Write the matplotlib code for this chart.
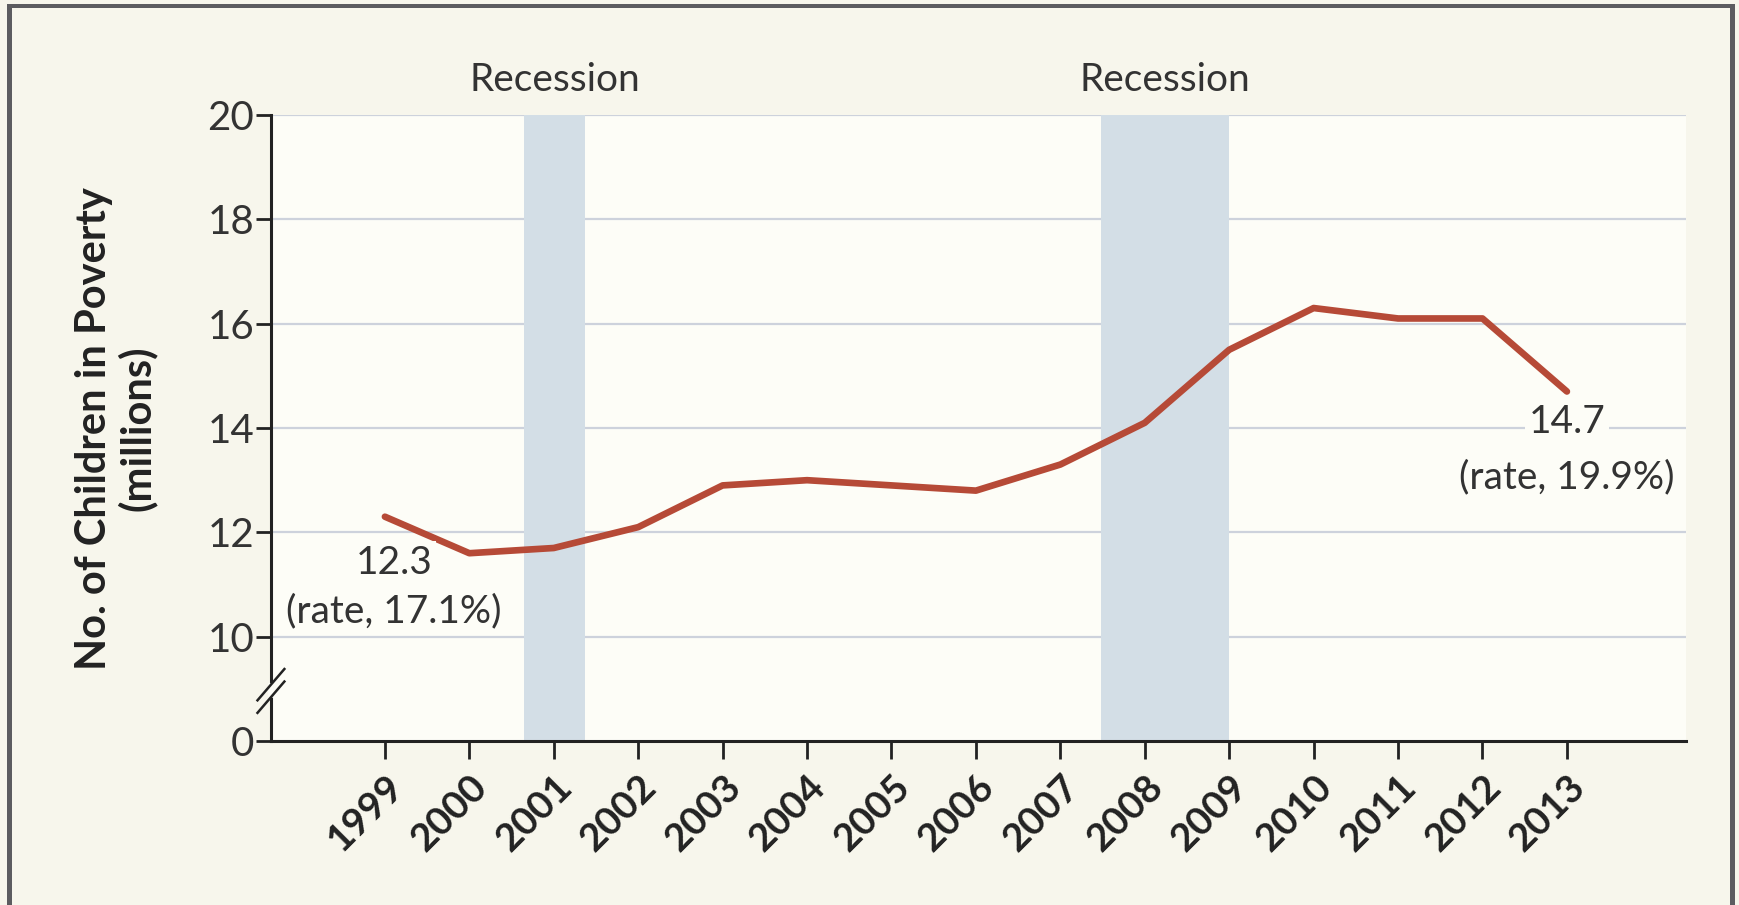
import matplotlib
matplotlib.use("Agg")
import matplotlib.pyplot as plt
from matplotlib.patches import Rectangle

# data
years = [1999, 2000, 2001, 2002, 2003, 2004, 2005, 2006, 2007,
         2008, 2009, 2010, 2011, 2012, 2013]
children = [12.3, 11.6, 11.7, 12.1, 12.9, 13.0, 12.9, 12.8, 13.3,
            14.1, 15.5, 16.3, 16.1, 16.1, 14.7]
rates = {1999: 17.1, 2013: 19.9}
recessions = [(2000.65, 2001.37), (2007.48, 2009.0)]
ytick_values = [0, 10, 12, 14, 16, 18, 20]

# the y axis is broken between 0 and 10; 0 is drawn where 8 would be
BREAK_POS = 8

plt.rcParams["font.family"] = ["Lato", "DejaVu Sans"]

FIG_BG = "#f7f6ec"
AX_BG = "#fdfdf7"
LINE = "#b64a37"
SHADE = "#d3dee6"
GRID = "#cdd2dc"
TXT = "#333333"

fig = plt.figure(figsize=(17.39, 9.05), dpi=100, facecolor=FIG_BG)
ax = fig.add_axes([0.1558, 0.1812, 0.9695 - 0.1558, 0.8729 - 0.1812])
ax.set_facecolor(AX_BG)

ax.set_xlim(1997.65, 2014.41)
ax.set_ylim(BREAK_POS, 20)

# recession bands and labels
for start, end in recessions:
    ax.axvspan(start, end, color=SHADE, lw=0, zorder=1)
    ax.text((start + end) / 2, 1.056, "Recession", transform=ax.get_xaxis_transform(),
            ha="center", va="center", fontsize=28, color=TXT)

# grid lines (only above the break)
for v in ytick_values:
    if v >= 10:
        ax.axhline(v, color=GRID, lw=1.6, zorder=0.5)

ax.plot(years, children, color=LINE, lw=4.8, solid_capstyle="round",
        solid_joinstyle="round", zorder=3)

# end point labels
for yr in (years[0], years[-1]):
    val = children[years.index(yr)]
    dx = 6.5 if yr == years[0] else 0
    d1 = -33 if yr == years[0] else -22
    d2 = -68 if yr == years[0] else -62
    ax.annotate(f"{val:.1f}", (yr, val), xytext=(dx, d1), textcoords="offset points",
                ha="center", va="center", fontsize=28, color=TXT,
                zorder=4, bbox=dict(boxstyle="square,pad=0.1", fc=AX_BG, ec="none"))
    ax.annotate(f"(rate, {rates[yr]:.1f}%)", (yr, val), xytext=(dx, d2),
                textcoords="offset points", ha="center", va="center",
                fontsize=28, color=TXT, zorder=4)

# axes styling
for s in ("top", "right"):
    ax.spines[s].set_visible(False)
for s in ("left", "bottom"):
    ax.spines[s].set_linewidth(2.2)
    ax.spines[s].set_color("#222222")

ax.set_yticks([BREAK_POS if v == 0 else v for v in ytick_values])
ax.set_yticklabels([str(v) for v in ytick_values])
ax.set_xticks(years)
ax.set_xticklabels([str(y) for y in years], rotation=45, ha="right",
                   rotation_mode="anchor", fontweight="bold")
ax.tick_params(axis="y", length=11, width=2, color="#222222", labelsize=29,
               labelcolor=TXT, pad=1)
ax.tick_params(axis="x", length=13, width=2, color="#222222", labelsize=28,
               labelcolor="#222222", pad=7)

# axis break marks
tr = ax.get_yaxis_transform()
ax.plot([0, 0], [8.88, 9.05], transform=tr, color=AX_BG, lw=4, clip_on=False, zorder=5)
for yc in (8.84, 9.08):
    ax.plot([-0.0095, 0.0095], [yc - 0.3, yc + 0.3], transform=tr, color="#222222",
            lw=1.8, clip_on=False, zorder=6)

fig.text(0.0667, 0.527, "No. of Children in Poverty\n(millions)", rotation=90,
         ha="center", va="center", multialignment="center", fontsize=30,
         fontweight="bold", color="#222222", linespacing=1.1)

# outer frame
frame = "#5c5c60"
fig.add_artist(Rectangle((0.004, 0), 0.003, 0.9912, transform=fig.transFigure,
                         color=frame, lw=0))
fig.add_artist(Rectangle((0.004, 0.9912), 0.9935, 0.0045, transform=fig.transFigure,
                         color=frame, lw=0))
fig.add_artist(Rectangle((0.9948, 0), 0.003, 0.9912, transform=fig.transFigure,
                         color=frame, lw=0))

fig.savefig("out.png", dpi=100, facecolor=FIG_BG)
